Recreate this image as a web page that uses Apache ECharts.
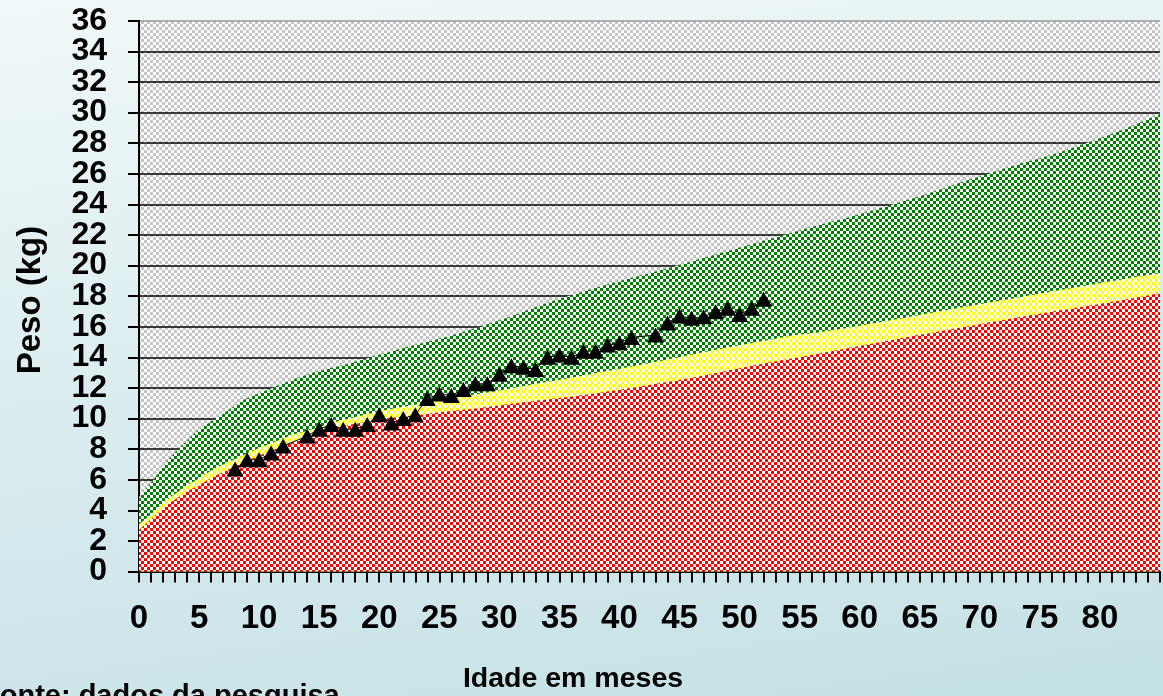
<!DOCTYPE html>
<html>
<head>
<meta charset="utf-8">
<script src="https://cdn.jsdelivr.net/npm/echarts@6/dist/echarts.min.js"></script>
<style>
  html, body { margin: 0; padding: 0; overflow: hidden; }
  body { background: linear-gradient(172deg, #f1f8f9 0%, #dcedf0 45%, #c4e1e5 100%); }
  #chart { width: 1163px; height: 696px; }
</style>
</head>
<body>
<div id="chart"></div>
<script>
// measured weights of the child (months, kg)
const months = [8, 9, 10, 11, 12, 14, 15, 16, 17, 18, 19, 20, 21, 22, 23, 24, 25, 26, 27, 28, 29, 30,
  31, 32, 33, 34, 35, 36, 37, 38, 39, 40, 41, 43, 44, 45, 46, 47, 48, 49, 50, 51, 52]
const weights = [6.7, 7.3, 7.3, 7.75, 8.2, 8.85, 9.3, 9.6, 9.3, 9.3, 9.6, 10.25, 9.7, 10.0, 10.25, 11.3,
  11.6, 11.5, 11.9, 12.27, 12.27, 12.9, 13.45, 13.35, 13.2, 14.0, 14.15, 14.0, 14.4, 14.4, 14.8, 14.95,
  15.3, 15.45, 16.25, 16.7, 16.55, 16.65, 16.98, 17.2, 16.8, 17.2, 17.8]

// reference bands (upper edge of each area)
const greenX = [0, 1.2, 3.3, 6.4, 11.1, 19.3, 28.4, 35.8, 44.8, 53.7, 62.8, 70.7, 78.9, 85]
const greenY = [4.85, 6, 8, 10, 12, 14, 16, 18, 20, 22, 24, 26, 28, 29.9]
const yellowX = [0, 0.85, 2, 3.3, 4.9, 7.3, 12, 14, 18, 24, 30.8, 39.3, 53.5, 57.6, 70.2, 83, 85]
const yellowY = [3.1, 3.65, 4.45, 5.25, 6.05, 7.1, 8.7, 9.2, 10.1, 11.05, 11.95, 13.15, 15.3, 15.75, 17.5, 19.25, 19.5]
const redX = [0, 0.85, 2, 3.3, 4.9, 7.3, 12, 14, 18, 24, 30, 42.2, 53.5, 70.2, 83, 85]
const redY = [2.7, 3.3, 4.1, 4.85, 5.6, 6.6, 8.2, 8.75, 9.65, 10.3, 10.85, 12.15, 13.8, 16.2, 17.9, 18.2]

// y labels are split over two axes so that the tightly packed ones are not dropped
const innerLabels = [2, 34]

const font = '"Liberation Sans", Arial, sans-serif'

const checker = (color, back, size) => {
  const c = document.createElement('canvas')
  c.width = size * 2
  c.height = size * 2
  const ctx = c.getContext('2d')
  ctx.fillStyle = back
  ctx.fillRect(0, 0, size * 2, size * 2)
  ctx.fillStyle = color
  ctx.fillRect(0, 0, size, size)
  ctx.fillRect(size, size, size, size)
  return { image: c, repeat: 'repeat' }
}

const zip = (xs, ys) => xs.map((x, i) => [x, ys[i]])

const band = (xs, ys, pattern) => ({
  type: 'line',
  data: zip(xs, ys),
  symbol: 'none',
  smooth: 0.6,
  lineStyle: { width: 0 },
  areaStyle: { color: pattern, opacity: 1 },
  silent: true,
  z: 2
})

const yLabel = {
  margin: 32,
  fontSize: 32,
  fontWeight: 'bold',
  fontFamily: font,
  color: '#000',
  showMinLabel: true,
  showMaxLabel: true
}

// gridlines are black, the top border of the plot is grey
const gridColors = Array(18).fill('#000').concat(['#9a9a9a'])

const chart = echarts.init(document.getElementById('chart'))

const option = {
  animation: false,
  grid: {
    left: 139,
    top: 20.7,
    width: 1049.75,
    height: 550.8,
    show: true,
    borderWidth: 0,
    backgroundColor: checker('#c4c4c4', '#ffffff', 3)
  },
  xAxis: {
    type: 'value',
    min: 0,
    max: 85,
    interval: 5,
    axisLine: { lineStyle: { color: '#000', width: 2 } },
    axisTick: { length: 11, lineStyle: { color: '#000', width: 2 } },
    minorTick: { show: true, splitNumber: 5, length: 11, lineStyle: { color: '#000', width: 2 } },
    axisLabel: {
      margin: 31,
      fontSize: 33,
      fontWeight: 'bold',
      fontFamily: font,
      color: '#000',
      formatter: v => (v <= 80 ? String(v) : '')
    },
    splitLine: { show: false }
  },
  yAxis: [
    {
      type: 'value',
      min: 0,
      max: 36,
      interval: 2,
      axisLine: { show: true, lineStyle: { color: '#000', width: 2 } },
      axisTick: { show: true, length: 11, lineStyle: { color: '#000', width: 2 } },
      axisLabel: { ...yLabel, formatter: v => (innerLabels.includes(v) ? '' : String(v)) },
      splitLine: { show: true, lineStyle: { color: gridColors, width: 1.5 } }
    },
    {
      type: 'value',
      position: 'left',
      min: 0,
      max: 36,
      interval: 2,
      axisLine: { show: false },
      axisTick: { show: false },
      axisLabel: { ...yLabel, formatter: v => (innerLabels.includes(v) ? String(v) : '') },
      splitLine: { show: false }
    }
  ],
  graphic: [
    {
      type: 'text',
      x: 31,
      y: 300,
      rotation: Math.PI / 2,
      style: { text: 'Peso (kg)', font: 'bold 33px ' + font, fill: '#000', align: 'center', verticalAlign: 'middle' }
    },
    {
      type: 'text',
      x: 573,
      y: 679,
      style: { text: 'Idade em meses', font: 'bold 28.5px ' + font, fill: '#000', align: 'center', verticalAlign: 'middle' }
    },
    {
      type: 'text',
      x: -18,
      y: 697,
      style: { text: 'Fonte: dados da pesquisa', font: 'bold 29px ' + font, fill: '#000', align: 'left', verticalAlign: 'middle' }
    }
  ],
  series: [
    band(greenX, greenY, checker('#008000', '#ffffff', 3)),
    band(yellowX, yellowY, checker('#ffff00', '#ffffff', 3)),
    band(redX, redY, checker('#ff0000', '#ffffff', 3)),
    {
      type: 'line',
      data: zip(months, weights),
      symbol: 'triangle',
      symbolSize: [17, 15],
      itemStyle: { color: '#000' },
      lineStyle: { color: '#000', width: 1 },
      z: 5
    }
  ]
}

chart.setOption(option)
</script>
</body>
</html>
